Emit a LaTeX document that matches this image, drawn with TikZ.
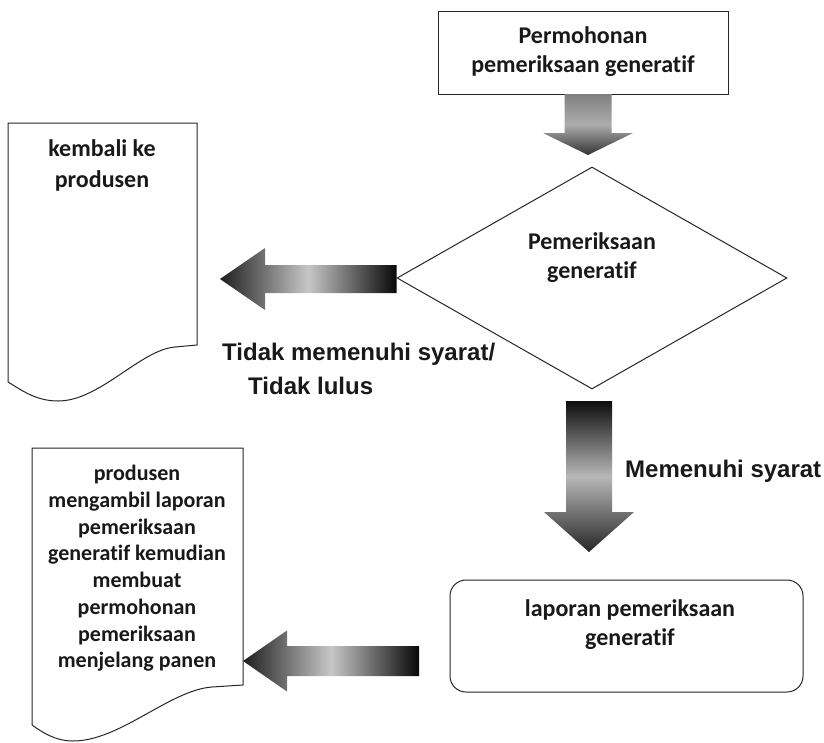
\documentclass[tikz,border=0pt]{standalone}
\usepackage{fontspec}
\setmainfont{Carlito}[Ligatures=NoCommon]
\newfontfamily\labelfont{Liberation Sans}
\usetikzlibrary{shapes.geometric,calc}

% vertical block arrow: tail, tip, shaft half width, head half width, head length, shading
\newcommand\downblock[6]{%
  \shade[#6] let \p1=(#1), \p2=(#2) in
    ({\x2-#3pt},\y1) -- ({\x2+#3pt},\y1) -- ({\x2+#3pt},{\y2+#5pt})
    -- ({\x2+#4pt},{\y2+#5pt}) -- (\p2) -- ({\x2-#4pt},{\y2+#5pt})
    -- ({\x2-#3pt},{\y2+#5pt}) -- cycle;}
% horizontal block arrow pointing left: tail, tip, shaft half width, head half width, head length, shading
\newcommand\leftblock[6]{%
  \shade[#6] let \p1=(#1), \p2=(#2) in
    (\x1,{\y2+#3pt}) -- (\x1,{\y2-#3pt}) -- ({\x2+#5pt},{\y2-#3pt})
    -- ({\x2+#5pt},{\y2-#4pt}) -- (\p2) -- ({\x2+#5pt},{\y2+#4pt})
    -- ({\x2+#5pt},{\y2+#3pt}) -- cycle;}

\tikzset{
  outline/.style={draw=black!85, line width=1pt, fill=white},
  boxtext/.style={font=\fontsize{24}{29}\selectfont\bfseries, align=center, text=black!90, inner sep=0pt},
  doctext/.style={font=\fontsize{22}{26.7}\selectfont\bfseries, align=center, text=black!90, inner sep=0pt},
  edgetext/.style={font=\labelfont\fontsize{24}{29}\selectfont\bfseries, text=black!90, inner sep=0pt},
  vshadeA/.style={top color=black!50, bottom color=black!80, middle color=black!32},
  vshadeB/.style={top color=black!95, bottom color=black!85, middle color=black!28},
  hshade/.style={left color=black!88, right color=black!97, middle color=black!22},
}

\begin{document}
\begin{tikzpicture}[x=1pt, y=-1pt]
\useasboundingbox[fill=white] (0,0) rectangle (824,742);

% request box
\node[outline, minimum width=290, minimum height=83, inner sep=0pt] (req) at (583,52.5) {};
\node[boxtext] (reqtext) at (583,52) {Permohonan\\pemeriksaan generatif};

% decision diamond
\node[outline, diamond, minimum width=390, minimum height=222, inner sep=0pt] (chk) at (592,278) {};
\node[boxtext] (chktext) at (592,258) {Pemeriksaan\\generatif};

% returned-to-producer document
\draw[outline] (8,123) -- (197,123) -- (197,345) -- (175,347)
  .. controls (140,350) and (100,401) .. (58,401)
  .. controls (35,401) and (20,389) .. (8,382) -- cycle;
\node[boxtext, anchor=north, font=\fontsize{24}{31.5}\selectfont\bfseries] (backtext) at (102,139) {kembali ke\\produsen};

% report box
\node[outline, rounded corners=16pt, minimum width=353, minimum height=112, inner sep=0pt] (rep) at (626.5,636) {};
\node[boxtext] (reptext) at (630,625) {laporan pemeriksaan\\generatif};

% producer follow-up document
\draw[outline] (32,448) -- (243,448) -- (243,685) -- (212,687)
  .. controls (170,690) and (120,741) .. (73,741)
  .. controls (55,741) and (42,732) .. (32,725) -- cycle;
\node[doctext, anchor=north, font=\fontsize{22}{26.75}\selectfont\bfseries] (nexttext) at (137,465)
  {produsen\\mengambil laporan\\pemeriksaan\\generatif kemudian\\membuat\\permohonan\\pemeriksaan\\menjelang panen};

% arrow ends
\coordinate (reqtip) at (588,155);
\coordinate (reqtail) at (588,94);
\coordinate (passtail) at (589,401);
\coordinate (passtip) at (589,552);
\coordinate (failtip) at (220,279);
\coordinate (reptip) at (243,661);
\coordinate (reptail) at (419,661);

% block arrows
\downblock{reqtail}{reqtip}{23.5}{45}{22}{vshadeA}
\downblock{passtail}{passtip}{23}{45}{40}{vshadeB}
\leftblock{chk.west}{failtip}{14}{31}{45}{hshade}
\leftblock{reptail}{reptip}{15}{30.5}{44}{hshade}

% outcome labels
\node[edgetext, anchor=west] (failtext) at (222,354) {Tidak memenuhi syarat/};
\node[edgetext, anchor=west] (failtext2) at (248,386) {Tidak lulus};
\node[edgetext, anchor=west] (passtext) at (625,471) {Memenuhi syarat};
\end{tikzpicture}
\end{document}
